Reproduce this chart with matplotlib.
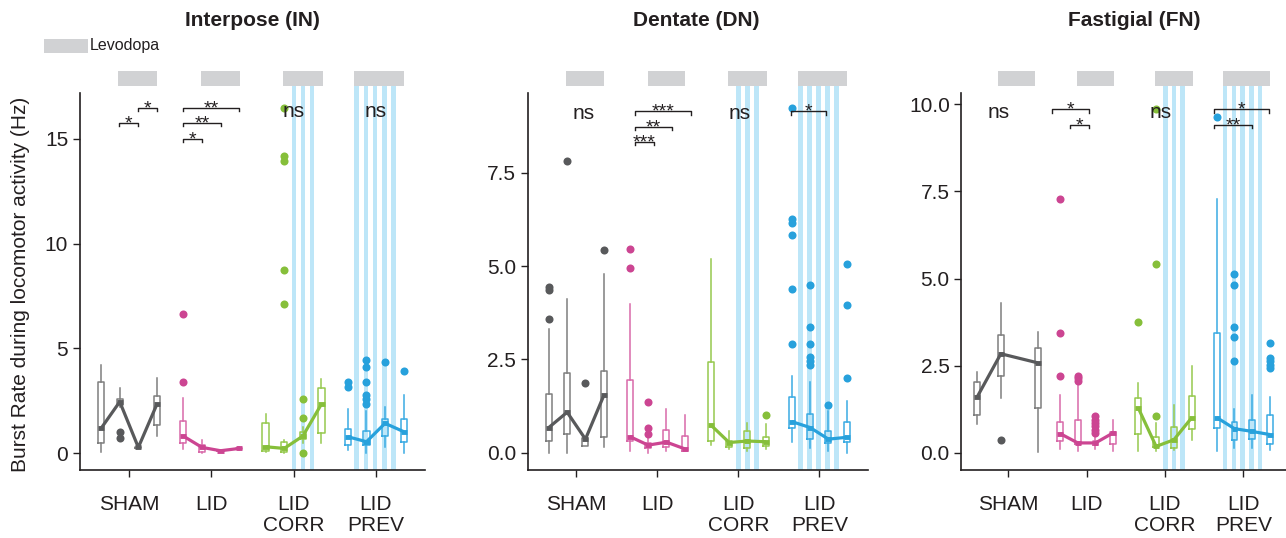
import matplotlib
matplotlib.use("Agg")
import matplotlib.pyplot as plt
from matplotlib.patches import Rectangle

# --- Data (Hz): one row per group, one entry per session ---
groups = ['SHAM', 'LID', 'LID\nCORR', 'LID\nPREV']

# Interpose (IN)
in_lo = [[0.06, 2.20, 0.25, 0.81], [0.19, 0.00, 0.07, 0.15], [0.03, 0.02, 0.46, 0.49], [0.14, 0.00, 0.27, 0.00]]
in_q1 = [[0.46, 2.30, 0.25, 1.34], [0.46, 0.05, 0.09, 0.18], [0.11, 0.06, 0.65, 0.94], [0.38, 0.38, 0.81, 0.54]]
in_med = [[1.18, 2.45, 0.27, 2.34], [0.81, 0.27, 0.11, 0.22], [0.30, 0.22, 0.81, 2.34], [0.78, 0.54, 1.42, 1.02]]
in_q3 = [[3.41, 2.60, 0.29, 2.74], [1.53, 0.38, 0.13, 0.25], [1.42, 0.54, 1.02, 3.09], [1.13, 1.07, 1.61, 1.61]]
in_hi = [[4.19, 3.10, 0.29, 3.60], [2.65, 0.62, 0.15, 0.28], [1.87, 0.60, 1.23, 3.53], [2.09, 2.00, 2.19, 2.78]]
in_out = [[[], [1.02, 0.72], [], []],
          [[6.63, 3.41], [], [], []],
          [[], [16.5, 14.18, 13.94, 8.76, 7.11], [2.58, 1.69, -0.01], []],
          [[3.41, 3.17], [4.45, 4.10, 3.38, 2.78, 2.58, 2.34], [4.34], [3.94]]]

# Dentate (DN)
dn_lo = [[0.01, 0.01, 0.20, 0.17], [0.04, 0.01, 0.04, 0.06], [0.21, 0.11, 0.04, 0.11], [0.30, 0.13, 0.04, 0.01]]
dn_q1 = [[0.32, 0.51, 0.20, 0.42], [0.32, 0.13, 0.17, 0.06], [0.33, 0.15, 0.14, 0.19], [0.66, 0.37, 0.26, 0.29]]
dn_med = [[0.68, 1.09, 0.37, 1.54], [0.44, 0.21, 0.29, 0.11], [0.75, 0.28, 0.32, 0.30], [0.84, 0.68, 0.37, 0.42]]
dn_q3 = [[1.58, 2.13, 0.39, 2.20], [1.94, 0.28, 0.62, 0.46], [2.43, 0.33, 0.59, 0.42], [1.51, 1.04, 0.59, 0.84]]
dn_hi = [[3.32, 4.12, 0.39, 4.79], [3.99, 0.40, 1.17, 1.02], [5.19, 0.59, 0.80, 0.78], [2.06, 1.90, 1.13, 1.40]]
dn_out = [[[4.44, 4.37, 3.59], [7.80], [1.87], [5.43]],
          [[5.46, 4.94], [1.36, 0.66, 0.50], [], []],
          [[], [], [], [1.02]],
          [[9.22, 6.27, 6.15, 5.83, 4.39, 2.92], [4.48, 3.37, 2.92, 2.56, 2.47, 2.36], [1.29], [5.06, 3.96, 2.00]]]

# Fastigial (FN) -- SHAM only has three sessions
fn_lo = [[0.83, 1.57, 0.01], [0.10, 0.06, 0.10, 0.04], [0.04, 0.06, 0.09, 0.35], [0.06, 0.13, 0.13, 0.09]]
fn_q1 = [[1.07, 2.21, 1.28], [0.33, 0.25, 0.23, 0.25], [0.55, 0.15, 0.13, 0.68], [0.71, 0.35, 0.40, 0.26]]
fn_med = [[1.59, 2.84, 2.58], [0.55, 0.28, 0.28, 0.57], [1.28, 0.18, 0.37, 1.00], [1.01, 0.69, 0.61, 0.52]]
fn_q3 = [[2.02, 3.39, 3.01], [0.87, 0.95, 0.33, 0.59], [1.57, 0.44, 0.74, 1.62], [3.44, 0.87, 0.93, 1.07]]
fn_hi = [[2.32, 4.30, 3.46], [1.67, 1.95, 0.45, 0.93], [2.00, 0.85, 1.38, 2.48], [7.27, 1.24, 1.67, 1.59]]
fn_out = [[[], [0.37], []],
          [[7.29, 3.44, 2.19], [2.21, 2.15, 2.05], [1.04, 0.95, 0.85, 0.76, 0.66, 0.57], []],
          [[3.74], [9.88, 5.43, 1.06], [], []],
          [[9.63], [5.13, 4.81, 3.60, 3.31, 2.62], [], [3.15, 2.72, 2.62, 2.53, 2.43]]]

# significance brackets: (group, from, to, y, label) and "ns" labels: (group, dx, y)
in_sig = [(1, -0.118, 0.113, 15.77, '*'), (1, 0.109, 0.337, 16.49, '*'),
          (2, -0.34, -0.113, 15.0, '*'), (2, -0.34, 0.114, 15.77, '**'), (2, -0.34, 0.337, 16.49, '**')]
in_ns = [(3, 0.0, 16.06), (4, 0.0, 16.06)]
dn_sig = [(2, -0.275, -0.04, 8.32, '***'), (2, -0.275, 0.186, 8.72, '**'), (2, -0.275, 0.41, 9.14, '***'),
          (4, -0.346, 0.086, 9.14, '*')]
dn_ns = [(1, 0.09, 8.92), (3, 0.016, 8.92)]
fn_sig = [(2, -0.447, 0.026, 9.86, '*'), (2, -0.212, 0.026, 9.41, '*'),
          (4, -0.37, 0.332, 9.86, '*'), (4, -0.37, 0.107, 9.41, '**')]
fn_ns = [(1, -0.128, 9.62), (3, -0.05, 9.62)]

# --- Layout / style ---
plt.rcParams.update({
    'font.family': 'Liberation Sans',
    'font.size': 15,
    'text.color': '#231f20',
    'xtick.color': '#231f20',
    'ytick.color': '#231f20',
})
W, H = 1286, 538
offsets = [-0.34, -0.113, 0.113, 0.34]
fn_sham_offsets = [-0.40, -0.095, 0.375]
levo_spans = [(-0.13, 0.345), (-0.12, 0.345), (-0.13, 0.36), (-0.265, 0.34)]
stripes_corr = [0.005, 0.115, 0.225]
stripes_prev = [-0.235, -0.12, -0.01, 0.105, 0.215]
stripe_w = 0.057
colors = [('#7f7f7f', '#58595b'), ('#d86aa9', '#cc4592'), ('#96c94e', '#86bf3a'), ('#3aabe3', '#27a1dc')]
stripe_c = '#bde6f8'
levo_c = '#d1d2d4'

panels = [
    dict(title='Interpose (IN)', tx=252, left=79.7, width=345.4, ylim=(-0.81, 17.22),
         yt=[0, 5, 10, 15], ytl=['0', '5', '10', '15'],
         d=(in_lo, in_q1, in_med, in_q3, in_hi, in_out), sig=in_sig, ns=in_ns),
    dict(title='Dentate (DN)', tx=696, left=527.7, width=340.2, ylim=(-0.455, 9.64),
         yt=[0, 2.5, 5, 7.5], ytl=['0.0', '2.5', '5.0', '7.5'],
         d=(dn_lo, dn_q1, dn_med, dn_q3, dn_hi, dn_out), sig=dn_sig, ns=dn_ns),
    dict(title='Fastigial (FN)', tx=1134, left=961.3, width=329.0, ylim=(-0.497, 10.34),
         yt=[0, 2.5, 5, 7.5, 10], ytl=['0.0', '2.5', '5.0', '7.5', '10.0'],
         d=(fn_lo, fn_q1, fn_med, fn_q3, fn_hi, fn_out), sig=fn_sig, ns=fn_ns),
]

fig = plt.figure(figsize=(W / 100, H / 100), dpi=100)
ax_bottom, ax_top = 470, 92.5
bar_lo = (ax_bottom - 85.7) / (ax_bottom - ax_top)
bar_hi = (ax_bottom - 71) / (ax_bottom - ax_top)

for pi, p in enumerate(panels):
    ax = fig.add_axes([p['left'] / W, (H - ax_bottom) / H, p['width'] / W, (ax_bottom - ax_top) / H])
    lo, q1, med, q3, hi, out = p['d']
    tr = ax.get_xaxis_transform()

    for gi in range(4):
        offs = fn_sham_offsets if (pi == 2 and gi == 0) else offsets
        pos = [gi + 1 + o for o in offs]
        box_c, line_c = colors[gi]
        stats = [dict(whislo=lo[gi][k], q1=q1[gi][k], med=med[gi][k], q3=q3[gi][k],
                      whishi=hi[gi][k], fliers=out[gi][k]) for k in range(len(pos))]
        ax.bxp(stats, positions=pos, widths=0.075, showcaps=False, manage_ticks=False,
               boxprops=dict(color=box_c, lw=1.1), whiskerprops=dict(color=box_c, lw=1.1),
               medianprops=dict(color=line_c, lw=3.5, solid_capstyle='butt'),
               flierprops=dict(marker='o', markerfacecolor=line_c, markeredgecolor='none', markersize=5.8),
               zorder=3)
        ax.plot(pos, med[gi], color=line_c, lw=2.3, zorder=4, solid_capstyle='butt')

        # levodopa bar above the axes
        s0, s1 = levo_spans[gi]
        ax.add_patch(Rectangle((gi + 1 + s0, bar_lo), s1 - s0, bar_hi - bar_lo, transform=tr,
                               color=levo_c, lw=0, clip_on=False, zorder=1))

    # light stimulation stripes
    for gi, xs in ((2, stripes_corr), (3, stripes_prev)):
        for s in xs:
            ax.add_patch(Rectangle((gi + 1 + s - stripe_w / 2, 0), stripe_w, bar_lo, transform=tr,
                                   color=stripe_c, lw=0, clip_on=False, zorder=0))

    # significance brackets
    tick = 0.009 * (p['ylim'][1] - p['ylim'][0])
    for g, a, b, y, lab in p['sig']:
        x0, x1 = g + a, g + b
        ax.plot([x0, x0, x1, x1], [y - tick, y, y, y - tick], color='#231f20', lw=1.0,
                clip_on=False, zorder=5)
        ax.annotate(lab, ((x0 + x1) / 2, y), xytext=(0, -4.0), textcoords='offset points',
                    ha='center', va='baseline', fontsize=14, zorder=6)
    for g, dx, y in p['ns']:
        ax.text(g + dx, y, 'ns', ha='center', va='baseline', fontsize=15, zorder=6)

    ax.set_xlim(0.4, 4.6)
    ax.set_ylim(*p['ylim'])
    ax.set_xticks([1, 2, 3, 4])
    ax.set_xticklabels(groups, linespacing=1.15)
    ax.set_yticks(p['yt'])
    ax.set_yticklabels(p['ytl'])
    ax.tick_params(axis='x', length=4.8, width=1.0, pad=13, labelsize=15)
    ax.tick_params(axis='y', length=4.8, width=1.0, pad=3.5, labelsize=15)
    for side in ('top', 'right'):
        ax.spines[side].set_visible(False)
    for side in ('left', 'bottom'):
        ax.spines[side].set_linewidth(1.2)
        ax.spines[side].set_color('#231f20')

    fig.text(p['tx'] / W, 1 - 26 / H, p['title'], ha='center', va='baseline',
             fontsize=15, fontweight='bold')

fig.text(21 / W, 1 - 284 / H, 'Burst Rate during locomotor activity (Hz)', rotation=90,
         ha='center', va='center', fontsize=15)

# Levodopa legend
fig.add_artist(Rectangle((44 / W, 1 - 53.3 / H), 43.7 / W, 14 / H, transform=fig.transFigure,
                         color=levo_c, lw=0))
fig.text(90 / W, 1 - 46 / H, 'Levodopa', ha='left', va='center', fontsize=11.5)

fig.savefig('out.png', dpi=100)
